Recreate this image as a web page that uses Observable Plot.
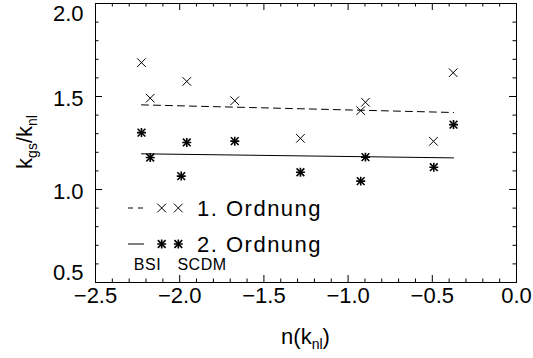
<!DOCTYPE html>
<html><head><meta charset="utf-8">
<script src="https://cdn.jsdelivr.net/npm/d3@7"></script>
<script src="https://cdn.jsdelivr.net/npm/@observablehq/plot@0.6"></script>
<style>
body{margin:0;background:#fff;}
#chart svg text{font-family:"Liberation Sans",Arial,sans-serif;}
</style></head><body><div id="chart"></div>
<script>
// 1. Ordnung (×) and 2. Ordnung (✱) values
const nFirst = [-2.227, -2.175, -1.958, -1.673, -1.283, -0.925, -0.897, -0.493, -0.376];
const ratioFirst = [1.682, 1.491, 1.581, 1.477, 1.275, 1.424, 1.469, 1.259, 1.628];
const nSecond = [-2.227, -2.175, -1.991, -1.958, -1.673, -1.283, -0.925, -0.897, -0.491, -0.374];
const ratioSecond = [1.306, 1.172, 1.072, 1.253, 1.260, 1.093, 1.045, 1.174, 1.120, 1.349];
// linear fits
const fitN = [-2.227, -0.374];
const fitFirst = [1.455, 1.414];
const fitSecond = [1.192, 1.170];
// axes
const xTicks = [-2.5, -2.0, -1.5, -1.0, -0.5, 0.0];
const yTicks = [0.5, 1.0, 1.5, 2.0];
const xDomain = [-2.5, 0];
const yDomain = [0.5, 2.0];
const legendLabels = ["1. Ordnung", "2. Ordnung"];
const legendNotes = ["BSI", "SCDM"];

const W = 533, H = 358, mL = 95, mR = 17, mT = 3, mB = 76;
const pw = W - mL - mR, ph = H - mT - mB;
const fmt = d3.format(".1f");
const xMinor = d3.ticks(xDomain[0], xDomain[1], 25).filter(v => !xTicks.some(t => Math.abs(t - v) < 1e-9));
const yMinor = d3.ticks(yDomain[0], yDomain[1], 15).filter(v => !yTicks.some(t => Math.abs(t - v) < 1e-9));

const first = nFirst.map((n, i) => ({n, r: ratioFirst[i]}));
const second = nSecond.map((n, i) => ({n, r: ratioSecond[i]}));
const fit1 = fitN.map((n, i) => ({n, r: fitFirst[i]}));
const fit2 = fitN.map((n, i) => ({n, r: fitSecond[i]}));

const FS = 22;
const MAJ = 7, MIN = 3.5;
const xpp = (xDomain[1] - xDomain[0]) / pw; // data units per pixel
const ypp = (yDomain[1] - yDomain[0]) / ph;
const [x0, x1] = xDomain, [y0, y1] = yDomain;
const tickStyle = {stroke: "black", strokeWidth: 1};
const yMid = yTicks.filter(d => d !== y0 && d !== y1);

const chart = Plot.plot({
  width: W, height: H,
  marginLeft: mL, marginRight: mR, marginTop: mT, marginBottom: mB,
  x: {domain: xDomain, axis: null},
  y: {domain: yDomain, axis: null},
  style: {background: "white", color: "black"},
  marks: [
    Plot.frame({stroke: "black", strokeWidth: 1}),
    // inward ticks on all four sides
    Plot.ruleX(xTicks, {x: d => d, y1: y0, y2: y0 + MAJ * ypp, ...tickStyle}),
    Plot.ruleX(xTicks, {x: d => d, y1: y1 - MAJ * ypp, y2: y1, ...tickStyle}),
    Plot.ruleX(xMinor, {x: d => d, y1: y0, y2: y0 + MIN * ypp, ...tickStyle}),
    Plot.ruleX(xMinor, {x: d => d, y1: y1 - MIN * ypp, y2: y1, ...tickStyle}),
    Plot.ruleY(yTicks, {y: d => d, x1: x0, x2: x0 + MAJ * xpp, ...tickStyle}),
    Plot.ruleY(yTicks, {y: d => d, x1: x1 - MAJ * xpp, x2: x1, ...tickStyle}),
    Plot.ruleY(yMinor, {y: d => d, x1: x0, x2: x0 + MIN * xpp, ...tickStyle}),
    Plot.ruleY(yMinor, {y: d => d, x1: x1 - MIN * xpp, x2: x1, ...tickStyle}),
    // tick labels
    Plot.text(xTicks, {x: d => d, frameAnchor: "bottom", dy: 20, text: d => fmt(d), fontSize: FS, fill: "black", letterSpacing: 2}),
    Plot.text(yMid, {y: d => d, frameAnchor: "left", dx: -12, dy: 2, textAnchor: "end", text: d => fmt(d), fontSize: FS, fill: "black", letterSpacing: 1}),
    Plot.text([y1], {y: d => d, frameAnchor: "left", dx: -12, dy: 10, textAnchor: "end", text: d => fmt(d), fontSize: FS, fill: "black", letterSpacing: 1}),
    Plot.text([y0], {y: d => d, frameAnchor: "left", dx: -12, dy: -10, textAnchor: "end", text: d => fmt(d), fontSize: FS, fill: "black", letterSpacing: 1}),
    // fits
    Plot.line(fit1, {x: "n", y: "r", stroke: "black", strokeWidth: 1, strokeDasharray: "7,5"}),
    Plot.line(fit2, {x: "n", y: "r", stroke: "black", strokeWidth: 1}),
    // points
    Plot.dot(first, {x: "n", y: "r", symbol: "times", r: 4, stroke: "black", strokeWidth: 1}),
    Plot.dot(second, {x: "n", y: "r", symbol: "plus", r: 3, stroke: "black", strokeWidth: 1.6}),
    Plot.dot(second, {x: "n", y: "r", symbol: "times", r: 3.6, stroke: "black", strokeWidth: 1.6})
  ]
});
document.getElementById("chart").appendChild(chart);

const svg = d3.select(chart);
const g = svg.append("g").attr("fill", "black").attr("text-anchor", "start");
// legend
const rowsY = [208, 244];
g.append("line").attr("x1", 128).attr("x2", 133).attr("y1", rowsY[0]).attr("y2", rowsY[0]).attr("stroke", "black");
g.append("line").attr("x1", 138).attr("x2", 143).attr("y1", rowsY[0]).attr("y2", rowsY[0]).attr("stroke", "black");
g.append("line").attr("x1", 128).attr("x2", 144).attr("y1", rowsY[1]).attr("y2", rowsY[1]).attr("stroke", "black");
const symTimes = d3.symbolX || d3.symbolTimes;
const timesPath = d3.symbol(symTimes, Math.PI * 16)();
const plusPath = d3.symbol(d3.symbolPlus, Math.PI * 9)();
const times2Path = d3.symbol(symTimes, Math.PI * 3.6 * 3.6)();
[161.7, 178.3].forEach(x => {
  g.append("path").attr("d", timesPath).attr("transform", `translate(${x},${rowsY[0]})`).attr("fill", "none").attr("stroke", "black");
  g.append("path").attr("d", plusPath).attr("transform", `translate(${x},${rowsY[1]})`).attr("fill", "none").attr("stroke", "black").attr("stroke-width", 1.6);
  g.append("path").attr("d", times2Path).attr("transform", `translate(${x},${rowsY[1]})`).attr("fill", "none").attr("stroke", "black").attr("stroke-width", 1.6);
});
legendLabels.forEach((t, i) => {
  g.append("text").attr("x", 197).attr("y", rowsY[i] + 8).attr("font-size", FS).attr("letter-spacing", 1.5).text(t);
});
g.append("text").attr("x", 147.5).attr("y", 270).attr("font-size", 16).attr("text-anchor", "middle").attr("letter-spacing", 0.5).text(legendNotes[0]);
g.append("text").attr("x", 202).attr("y", 270).attr("font-size", 16).attr("text-anchor", "middle").attr("letter-spacing", 0.5).text(legendNotes[1]);

// axis titles
const xt = g.append("text").attr("x", mL + pw / 2).attr("y", 344).attr("font-size", FS).attr("text-anchor", "middle");
xt.append("tspan").text("n(k");
xt.append("tspan").attr("dy", 5).attr("font-size", 14).text("nl");
xt.append("tspan").attr("dy", -5).text(")");

const yt = g.append("text").attr("transform", `translate(32,142) rotate(-90)`).attr("font-size", FS).attr("text-anchor", "middle");
yt.append("tspan").text("k");
yt.append("tspan").attr("dy", 5).attr("font-size", 14).text("gs");
yt.append("tspan").attr("dy", -5).text("/");
yt.append("tspan").text("k");
yt.append("tspan").attr("dy", 5).attr("font-size", 14).text("nl");
</script></body></html>
